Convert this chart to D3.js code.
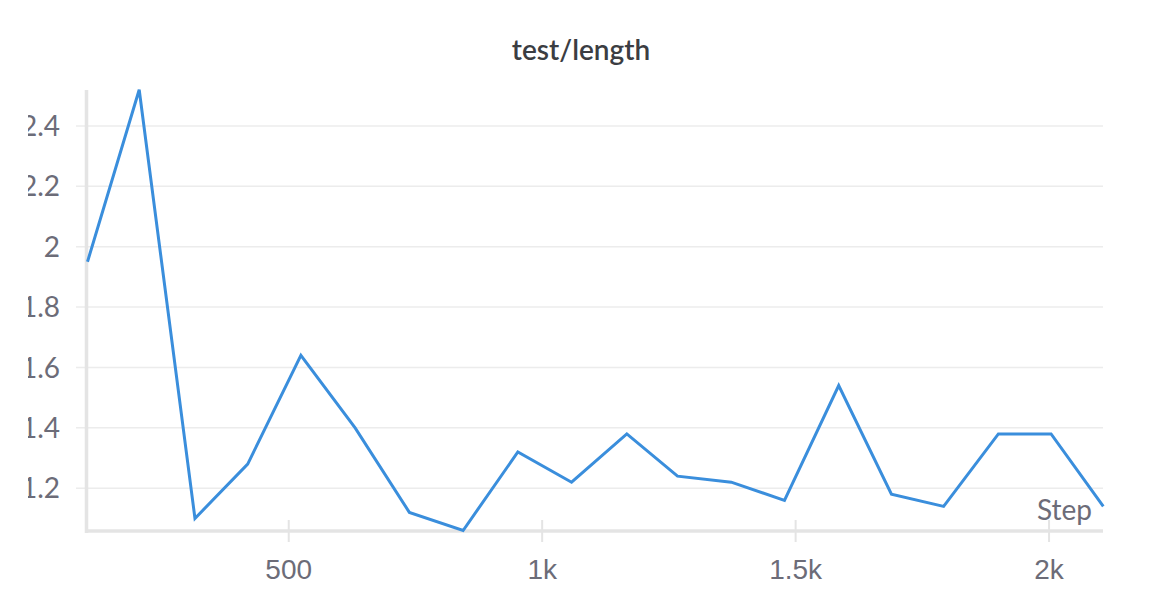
<!DOCTYPE html>
<html>
<head>
<meta charset="utf-8">
<script src="https://cdn.jsdelivr.net/npm/d3@7"></script>
<style>
  html, body { margin: 0; padding: 0; background: #fff; }
  svg { display: block; font-family: Lato, 'Noto Sans', sans-serif; }
</style>
</head>
<body>
<div class="chart"></div>
<script>
'use strict'
// steps and test/length values
const steps = [104, 206, 316, 420, 525, 632, 739, 845, 953, 1059, 1168, 1268, 1374, 1479, 1586, 1690, 1793, 1901, 2005, 2108]
const lengths = [1.95, 2.52, 1.10, 1.28, 1.64, 1.40, 1.12, 1.06, 1.32, 1.22, 1.38, 1.24, 1.22, 1.16, 1.54, 1.18, 1.14, 1.38, 1.38, 1.14]
const yTicks = [1.2, 1.4, 1.6, 1.8, 2.0, 2.2, 2.4]
const xTicks = [500, 1000, 1500, 2000]
const title = 'test/length'
const xLabel = 'Step'

const width = 1162
const height = 610

const svg = d3.select('.chart').append('svg')
  .attr('width', width)
  .attr('height', height)

const x = d3.scaleLinear().domain(d3.extent(steps)).range([87.5, 1103.3])
const y = d3.scaleLinear().domain(d3.extent(lengths)).range([530.5, 89.7])

const fmtX = function (d) {
  return d >= 1000 ? (d / 1000) + 'k' : String(d)
}
const fmtY = function (d) {
  return d3.format('~g')(d)
}

// left edge of the panel cuts the y labels
svg.append('defs').append('clipPath').attr('id', 'panel')
  .append('rect').attr('x', 28).attr('y', 0).attr('width', width - 28).attr('height', height)

// title
svg.append('text')
  .attr('x', 581)
  .attr('y', 60)
  .attr('text-anchor', 'middle')
  .attr('font-size', 28)
  .attr('font-weight', 600)
  .attr('fill', '#3b3d42')
  .text(title)

// horizontal grid
const grid = svg.append('g')
grid.selectAll('line')
  .data(yTicks)
  .enter().append('line')
  .attr('x1', 76)
  .attr('x2', 1103)
  .attr('y1', function (d) { return y(d) })
  .attr('y2', function (d) { return y(d) })
  .attr('stroke', '#ececec')
  .attr('stroke-width', 1.5)

// y labels
svg.append('g').attr('clip-path', 'url(#panel)')
  .selectAll('text')
  .data(yTicks)
  .enter().append('text')
  .attr('x', 60)
  .attr('y', function (d) { return y(d) })
  .attr('dy', '0.36em')
  .attr('text-anchor', 'end')
  .attr('font-size', 28)
  .attr('fill', '#6c6c78')
  .text(fmtY)

// x axis via d3 axis, restyled
const xAxis = svg.append('g')
  .attr('transform', 'translate(0,531)')
  .call(d3.axisBottom(x).tickValues(xTicks).tickFormat(fmtX).tickSize(0).tickPadding(0))
xAxis.select('.domain').remove()
xAxis.selectAll('.tick line')
  .attr('y1', -11)
  .attr('y2', 11)
  .attr('stroke', '#e4e4e4')
  .attr('stroke-width', 2)
xAxis.selectAll('.tick text')
  .attr('y', 48)
  .attr('dy', null)
  .attr('font-family', null)
  .attr('font-size', 28)
  .attr('fill', '#6c6c78')

// axis lines
svg.append('line')
  .attr('x1', 86.5).attr('x2', 86.5)
  .attr('y1', 90).attr('y2', 533)
  .attr('stroke', '#e4e4e4')
  .attr('stroke-width', 3.5)
svg.append('line')
  .attr('x1', 85).attr('x2', 1103)
  .attr('y1', 531).attr('y2', 531)
  .attr('stroke', '#e4e4e4')
  .attr('stroke-width', 3.5)

// x label
svg.append('text')
  .attr('x', 1092)
  .attr('y', 520)
  .attr('text-anchor', 'end')
  .attr('font-size', 28)
  .attr('fill', '#6c6c78')
  .text(xLabel)

// series
const line = d3.line()
  .x(function (d, i) { return x(steps[i]) })
  .y(function (d) { return y(d) })

svg.append('path')
  .datum(lengths)
  .attr('d', line)
  .attr('fill', 'none')
  .attr('stroke', '#3a8edc')
  .attr('stroke-width', 3)
  .attr('stroke-linejoin', 'miter')
</script>
</body>
</html>
